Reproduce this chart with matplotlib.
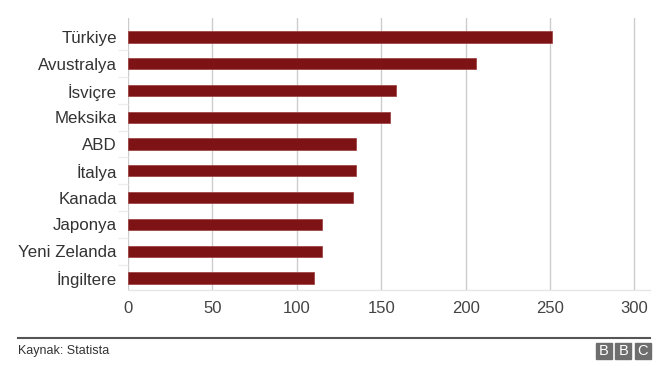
import matplotlib
matplotlib.use("Agg")
import matplotlib.pyplot as plt
from matplotlib.patches import Rectangle
import numpy as np

countries = ["Türkiye", "Avustralya", "İsviçre", "Meksika", "ABD", "İtalya",
             "Kanada", "Japonya", "Yeni Zelanda", "İngiltere"]
values = [251, 206, 159, 155, 135, 135, 133, 115, 115, 110]
xticks = [0, 50, 100, 150, 200, 250, 300]
source = "Kaynak: Statista"

plt.rcParams['font.family'] = ['Liberation Sans', 'DejaVu Sans']

fig = plt.figure(figsize=(6.7, 3.78), dpi=100)
ax = fig.add_axes([128/670, 1-290/378, (650-128)/670, (290-18)/378])

n = len(countries)
ypos = np.arange(n)[::-1]
ax.barh(ypos, values, height=0.42, color='#7e1315', edgecolor='#9a3a3a',
        linewidth=0.5, zorder=3)

ax.set_xlim(0, 309.2)
ax.set_ylim(-0.45, n - 1 + 0.71)
ax.set_xticks(xticks)
ax.set_xticklabels([str(t) for t in xticks], fontsize=12, color='#444444')
ax.set_yticks(ypos)
ax.set_yticklabels(countries, fontsize=12.2, color='#333333')
ax.set_yticks(np.arange(n - 1) + 0.5, minor=True)
ax.tick_params(axis='y', which='major', length=0, pad=8)
ax.tick_params(axis='y', which='minor', length=7, color='#ededed', width=1)
ax.tick_params(axis='x', length=0, pad=8)
ax.grid(axis='x', color='#cccccc', linewidth=1, zorder=0)
for s in ['top', 'right', 'left']:
    ax.spines[s].set_visible(False)
ax.spines['bottom'].set_color('#e6e6e6')
ax.spines['bottom'].set_linewidth(1)

# footer
fig.add_artist(plt.Line2D([18/670, 650/670], [1-337.7/378, 1-337.7/378],
                          color='#555555', linewidth=1.5))
fig.text(18/670, 1-351/378, source, fontsize=9, color='#333333',
         va='center', ha='left')
for i, ch in enumerate("BBC"):
    x0 = 596 + i * 19.3
    fig.add_artist(Rectangle((x0/670, 1-359/378), 16/670, 16.5/378,
                             transform=fig.transFigure, color='#6e6e6e'))
    fig.text((x0 + 8)/670, 1-350.8/378, ch, fontsize=10.5, color='white',
             ha='center', va='center')

fig.savefig("out.png", dpi=100)
